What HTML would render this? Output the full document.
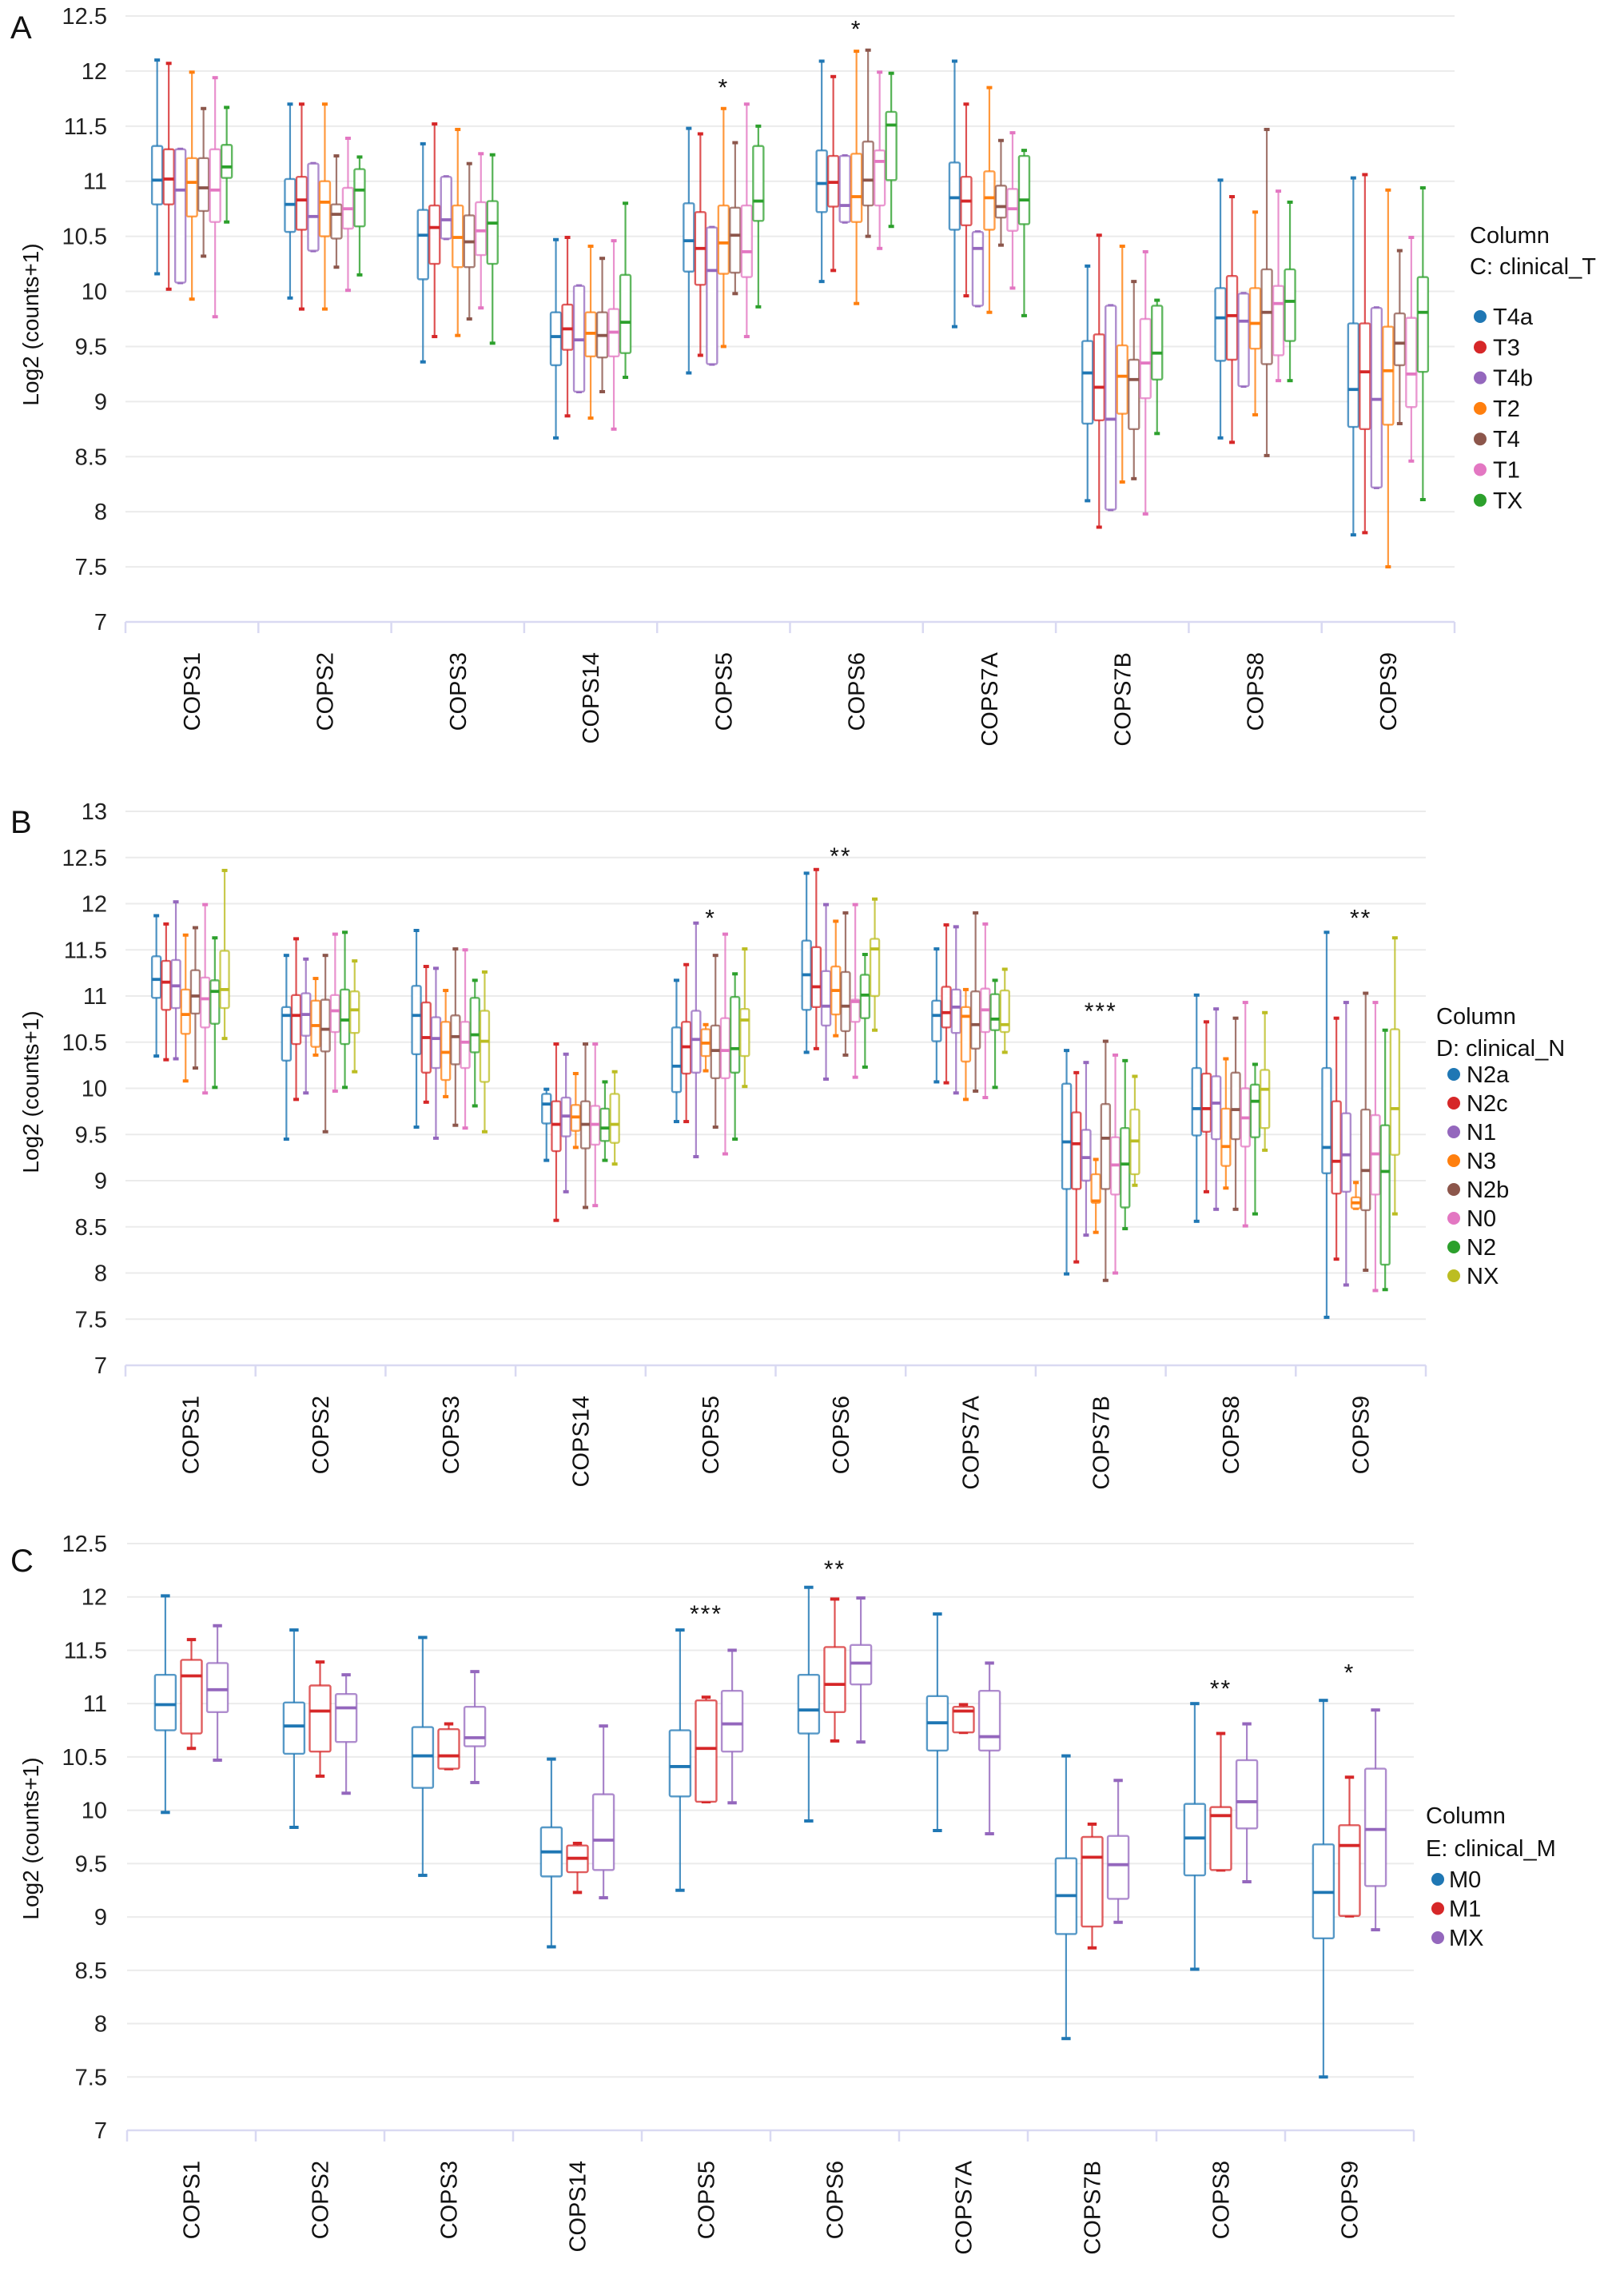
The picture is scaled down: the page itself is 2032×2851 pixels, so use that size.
<!DOCTYPE html>
<html><head><meta charset="utf-8"><title>COPS expression boxplots</title>
<style>
html,body{margin:0;padding:0;background:#fff;}
svg{display:block;font-family:"Liberation Sans",Arial,sans-serif;}
</style></head>
<body>
<svg id="fig" width="2032" height="2851" viewBox="0 0 2032 2851" xmlns="http://www.w3.org/2000/svg"></svg>
<script>
const categories = ["COPS1","COPS2","COPS3","COPS14","COPS5","COPS6","COPS7A","COPS7B","COPS8","COPS9"];
// each entry: [min, q1, median, q3, max]
const a_T4a=[[10.16,10.79,11.01,11.32,12.10],[9.94,10.54,10.79,11.02,11.70],[9.36,10.11,10.51,10.74,11.34],[8.67,9.33,9.59,9.81,10.47],[9.26,10.18,10.46,10.80,11.48],[10.09,10.72,10.98,11.28,12.09],[9.68,10.56,10.85,11.17,12.09],[8.10,8.80,9.26,9.55,10.23],[8.67,9.37,9.76,10.03,11.01],[7.79,8.77,9.11,9.71,11.03]];
const a_T3=[[10.02,10.79,11.02,11.29,12.07],[9.84,10.56,10.83,11.04,11.70],[9.59,10.25,10.58,10.78,11.52],[8.87,9.47,9.66,9.88,10.49],[9.42,10.06,10.39,10.72,11.43],[10.19,10.77,10.99,11.23,11.95],[9.96,10.60,10.82,11.04,11.70],[7.86,8.83,9.13,9.61,10.51],[8.63,9.38,9.78,10.14,10.86],[7.81,8.75,9.27,9.71,11.06]];
const a_T4b=[[10.08,10.08,10.92,11.29,11.29],[10.37,10.37,10.68,11.16,11.16],[10.48,10.48,10.65,11.04,11.04],[9.09,9.09,9.56,10.05,10.05],[9.34,9.34,10.19,10.58,10.58],[10.63,10.63,10.78,11.23,11.23],[9.87,9.87,10.39,10.54,10.54],[8.02,8.02,8.84,9.87,9.87],[9.14,9.14,9.73,9.98,9.98],[8.22,8.22,9.02,9.85,9.85]];
const a_T2=[[9.93,10.68,10.99,11.21,11.99],[9.84,10.50,10.81,11.00,11.70],[9.60,10.22,10.49,10.78,11.47],[8.85,9.41,9.62,9.81,10.41],[9.50,10.16,10.44,10.78,11.66],[9.89,10.63,10.86,11.25,12.18],[9.81,10.56,10.85,11.09,11.85],[8.27,8.89,9.23,9.51,10.41],[8.88,9.48,9.71,10.03,10.72],[7.50,8.79,9.28,9.68,10.92]];
const a_T4=[[10.32,10.73,10.94,11.21,11.66],[10.22,10.48,10.70,10.79,11.23],[9.75,10.22,10.45,10.69,11.16],[9.09,9.40,9.60,9.81,10.30],[9.98,10.17,10.51,10.76,11.35],[10.50,10.78,11.01,11.36,12.19],[10.42,10.67,10.77,10.96,11.37],[8.30,8.75,9.20,9.38,10.09],[8.51,9.34,9.81,10.20,11.47],[8.80,9.33,9.53,9.80,10.37]];
const a_T1=[[9.77,10.63,10.92,11.29,11.94],[10.01,10.57,10.75,10.94,11.39],[9.85,10.33,10.55,10.81,11.25],[8.75,9.41,9.63,9.84,10.46],[9.59,10.13,10.36,10.78,11.70],[10.39,10.78,11.18,11.28,11.99],[10.03,10.55,10.75,10.93,11.44],[7.98,9.03,9.35,9.75,10.36],[9.19,9.42,9.89,10.05,10.91],[8.46,8.95,9.25,9.76,10.49]];
const a_TX=[[10.63,11.03,11.13,11.33,11.67],[10.15,10.59,10.92,11.11,11.22],[9.53,10.25,10.62,10.82,11.24],[9.22,9.44,9.72,10.15,10.80],[9.86,10.64,10.82,11.32,11.50],[10.59,11.01,11.51,11.63,11.98],[9.78,10.61,10.83,11.23,11.28],[8.71,9.20,9.44,9.87,9.92],[9.19,9.55,9.91,10.20,10.81],[8.11,9.27,9.81,10.13,10.94]];

const b_N2a=[[10.35,10.98,11.18,11.43,11.87],[9.45,10.30,10.79,10.88,11.44],[9.58,10.37,10.79,11.11,11.71],[9.22,9.62,9.83,9.94,9.99],[9.64,9.96,10.24,10.66,11.17],[10.39,10.85,11.23,11.60,12.33],[10.07,10.51,10.79,10.95,11.51],[7.99,8.91,9.42,10.05,10.41],[8.56,9.49,9.78,10.22,11.01],[7.52,9.08,9.36,10.22,11.69]];
const b_N2c=[[10.31,10.85,11.15,11.38,11.78],[9.88,10.48,10.79,11.01,11.62],[9.85,10.17,10.55,10.93,11.32],[8.57,9.32,9.61,9.86,10.48],[9.64,10.16,10.45,10.72,11.34],[10.43,10.88,11.10,11.53,12.37],[10.06,10.66,10.82,11.10,11.77],[8.12,8.91,9.40,9.74,10.17],[8.88,9.53,9.78,10.16,10.72],[8.15,8.86,9.21,9.86,10.76]];
const b_N1=[[10.32,10.87,11.11,11.39,12.02],[9.95,10.57,10.80,11.03,11.40],[9.46,10.22,10.54,10.77,11.30],[8.88,9.48,9.70,9.90,10.37],[9.26,10.17,10.53,10.84,11.79],[10.10,10.68,10.89,11.27,11.99],[9.95,10.60,10.88,11.07,11.75],[8.41,9.00,9.25,9.55,10.28],[8.69,9.45,9.84,10.13,10.86],[7.87,8.88,9.28,9.73,10.93]];
const b_N3=[[10.08,10.59,10.80,11.07,11.66],[10.36,10.45,10.68,10.95,11.19],[9.91,10.09,10.39,10.72,11.06],[9.36,9.54,9.69,9.82,10.16],[10.19,10.35,10.49,10.64,10.69],[10.57,10.80,11.06,11.32,11.81],[9.88,10.29,10.78,10.88,11.07],[8.44,8.76,8.78,9.07,9.23],[8.92,9.16,9.37,9.78,10.32],[8.70,8.70,8.76,8.82,8.98]];
const b_N2b=[[10.22,10.81,11.00,11.28,11.74],[9.53,10.40,10.64,10.96,11.44],[9.60,10.26,10.56,10.79,11.51],[8.71,9.35,9.61,9.86,10.48],[9.58,10.11,10.41,10.68,11.44],[10.36,10.62,10.89,11.26,11.90],[9.97,10.43,10.69,11.05,11.90],[7.92,8.91,9.46,9.83,10.51],[8.69,9.45,9.77,10.17,10.76],[8.03,8.68,9.11,9.77,11.03]];
const b_N0=[[9.95,10.66,10.97,11.20,11.99],[9.97,10.61,10.84,11.01,11.67],[9.57,10.22,10.50,10.72,11.50],[8.73,9.39,9.61,9.81,10.48],[9.29,10.11,10.41,10.76,11.67],[10.12,10.72,10.94,10.96,11.99],[9.90,10.61,10.85,11.08,11.78],[8.00,8.85,9.17,9.47,10.36],[8.51,9.37,9.68,10.00,10.93],[7.81,8.85,9.29,9.71,10.93]];
const b_N2=[[10.01,10.70,11.05,11.17,11.63],[10.01,10.48,10.74,11.07,11.69],[9.81,10.39,10.58,10.98,11.17],[9.22,9.43,9.57,9.78,10.07],[9.45,10.17,10.43,10.99,11.24],[10.23,10.76,11.01,11.23,11.45],[10.01,10.63,10.75,11.02,11.17],[8.48,8.71,9.18,9.57,10.30],[8.64,9.47,9.86,10.04,10.26],[7.82,8.09,9.10,9.60,10.63]];
const b_NX=[[10.54,10.87,11.07,11.49,12.36],[10.18,10.60,10.85,11.05,11.38],[9.53,10.07,10.51,10.84,11.26],[9.18,9.41,9.61,9.94,10.18],[10.02,10.35,10.74,10.86,11.51],[10.63,11.00,11.51,11.62,12.05],[10.39,10.61,10.69,11.06,11.29],[8.95,9.07,9.43,9.77,10.13],[9.33,9.57,9.99,10.20,10.82],[8.64,9.28,9.78,10.64,11.63]];

const c_M0=[[9.98,10.75,10.99,11.27,12.01],[9.84,10.53,10.79,11.01,11.69],[9.39,10.21,10.51,10.78,11.62],[8.72,9.38,9.61,9.84,10.48],[9.25,10.13,10.41,10.75,11.69],[9.90,10.72,10.94,11.27,12.09],[9.81,10.56,10.82,11.07,11.84],[7.86,8.84,9.20,9.55,10.51],[8.51,9.39,9.74,10.06,11.00],[7.50,8.80,9.23,9.68,11.03]];
const c_M1=[[10.58,10.72,11.26,11.41,11.60],[10.32,10.55,10.93,11.17,11.39],[10.39,10.39,10.51,10.76,10.81],[9.23,9.42,9.55,9.67,9.69],[10.08,10.08,10.58,11.03,11.06],[10.65,10.92,11.18,11.53,11.98],[10.73,10.73,10.93,10.97,10.99],[8.71,8.91,9.56,9.75,9.87],[9.44,9.44,9.95,10.03,10.72],[9.01,9.01,9.67,9.86,10.31]];
const c_MX=[[10.47,10.92,11.13,11.38,11.73],[10.16,10.64,10.96,11.09,11.27],[10.26,10.60,10.68,10.97,11.30],[9.18,9.44,9.72,10.15,10.79],[10.07,10.55,10.81,11.12,11.50],[10.64,11.18,11.38,11.55,11.99],[9.78,10.56,10.69,11.12,11.38],[8.95,9.17,9.49,9.76,10.28],[9.33,9.83,10.08,10.47,10.81],[8.88,9.29,9.82,10.39,10.94]];

const ticksA=["7","7.5","8","8.5","9","9.5","10","10.5","11","11.5","12","12.5"];
const ticksB=["7","7.5","8","8.5","9","9.5","10","10.5","11","11.5","12","12.5","13"];
const ticksC=["7","7.5","8","8.5","9","9.5","10","10.5","11","11.5","12","12.5"];

const starsA_cat=[4,5], starsA_val=[11.88,12.41], starsA_txt=["*","*"];
const starsB_cat=[4,5,7,9], starsB_val=[11.88,12.55,10.87,11.88], starsB_txt=["*","**","***","**"];
const starsC_cat=[4,5,8,9], starsC_val=[11.87,12.29,11.17,11.32], starsC_txt=["***","**","**","*"];

const COL={blue:"#1f77b4",red:"#d62728",purple:"#9467bd",orange:"#ff7f0e",brown:"#8c564b",pink:"#e377c2",green:"#2ca02c",olive:"#bcbd22"};
const NS="http://www.w3.org/2000/svg";
const svg=document.getElementById('fig');
function mk(tag,attrs,parent){const e=document.createElementNS(NS,tag);for(const k in attrs)e.setAttribute(k,attrs[k]);(parent||svg).appendChild(e);return e;}

const panels=[
 {id:"a",letter:"A",letterY:48,yTopPx:20,yBotPx:778,vmin:7,vmax:12.5,ticks:ticksA,x0:157,x1:1820,step:14.5,bw:13,
  series:[["T4a",a_T4a,COL.blue],["T3",a_T3,COL.red],["T4b",a_T4b,COL.purple],["T2",a_T2,COL.orange],["T4",a_T4,COL.brown],["T1",a_T1,COL.pink],["TX",a_TX,COL.green]],
  legX:1839,legT1:294,legT2:333,legTitle2:"C: clinical_T",legDotX:1852,legTextX:1868,legY0:396,legDy:38.3,
  starsCat:starsA_cat,starsVal:starsA_val,starsTxt:starsA_txt,titleY:406},
 {id:"b",letter:"B",letterY:1042,yTopPx:1015,yBotPx:1708,vmin:7,vmax:13,ticks:ticksB,x0:157,x1:1784,step:12.2,bw:11,
  series:[["N2a",b_N2a,COL.blue],["N2c",b_N2c,COL.red],["N1",b_N1,COL.purple],["N3",b_N3,COL.orange],["N2b",b_N2b,COL.brown],["N0",b_N0,COL.pink],["N2",b_N2,COL.green],["NX",b_NX,COL.olive]],
  legX:1797,legT1:1271,legT2:1311,legTitle2:"D: clinical_N",legDotX:1819,legTextX:1835,legY0:1344,legDy:36,
  starsCat:starsB_cat,starsVal:starsB_val,starsTxt:starsB_txt,titleY:1366},
 {id:"c",letter:"C",letterY:1966,yTopPx:1931,yBotPx:2665,vmin:7,vmax:12.5,ticks:ticksC,x0:159,x1:1769,step:32.6,bw:26,
  series:[["M0",c_M0,COL.blue],["M1",c_M1,COL.red],["MX",c_MX,COL.purple]],
  legX:1784,legT1:2271,legT2:2312,legTitle2:"E: clinical_M",legDotX:1799,legTextX:1813,legY0:2351,legDy:36.5,
  starsCat:starsC_cat,starsVal:starsC_val,starsTxt:starsC_txt,titleY:2300}
];

panels.forEach(p=>{
  const g=mk('g',{});
  
  
  const y=v=>p.yBotPx-(v-p.vmin)/(p.vmax-p.vmin)*(p.yBotPx-p.yTopPx);
  const cw=(p.x1-p.x0)/categories.length;
  const cx=i=>p.x0+(i+0.5)*cw;
  // panel letter
  const L=mk('text',{x:13,y:p.letterY,'font-size':40,fill:'#111'},g);L.textContent=p.letter;
  
  
  // gridlines + ticks
  p.ticks.forEach(t=>{
    const v=parseFloat(t), yy=y(v);
    if(v>p.vmin){const gl=mk('line',{x1:p.x0,x2:p.x1,y1:yy,y2:yy,stroke:'#ebebeb','stroke-width':2},g);
      
      }
    const tl=mk('text',{x:134,y:yy+10,'font-size':29,'text-anchor':'end',fill:'#222'},g);tl.textContent=t;
    
    
  });
  // x axis
  const ax=mk('line',{x1:p.x0,x2:p.x1,y1:p.yBotPx,y2:p.yBotPx,stroke:'#d9d9f2','stroke-width':2.5},g);
  
  
  for(let i=0;i<=categories.length;i++){
    const xx=p.x0+i*cw;
    const tk=mk('line',{x1:xx,x2:xx,y1:p.yBotPx,y2:p.yBotPx+14,stroke:'#d9d9f2','stroke-width':2.5},g);
    
    
  }
  categories.forEach((c,i)=>{
    const xx=cx(i)+10, yy=p.yBotPx+38;
    const t=mk('text',{x:xx,y:yy,'font-size':29,'text-anchor':'end',fill:'#111',transform:`rotate(-90 ${xx} ${yy})`},g);
    t.textContent=c;
    
    
  });
  // y title
  const ty=mk('text',{x:48,y:p.titleY,'font-size':28,'text-anchor':'middle',fill:'#111',transform:`rotate(-90 48 ${p.titleY})`},g);
  ty.textContent="Log2 (counts+1)";
  
  
  // boxes
  const n=p.series.length;
  p.series.forEach((s,si)=>{
    const [name,data,color]=s;
    const sg=mk('g',{},g);
    
    
    data.forEach((d,ci)=>{
      const xc=cx(ci)+(si-(n-1)/2)*p.step, hw=p.bw/2;
      const [mn,q1,md,q3,mx]=d;
      const bg=mk('g',{},sg);
      
      
      mk('line',{x1:xc,x2:xc,y1:y(mx),y2:y(q3),stroke:color,'stroke-width':2.2,'stroke-opacity':0.8},bg);
      mk('line',{x1:xc,x2:xc,y1:y(q1),y2:y(mn),stroke:color,'stroke-width':2.2,'stroke-opacity':0.8},bg);
      const cap=Math.max(3.5,p.bw*0.22);
      mk('line',{x1:xc-cap,x2:xc+cap,y1:y(mx),y2:y(mx),stroke:color,'stroke-width':4},bg);
      mk('line',{x1:xc-cap,x2:xc+cap,y1:y(mn),y2:y(mn),stroke:color,'stroke-width':4},bg);
      mk('rect',{x:xc-hw,y:y(q3),width:p.bw,height:Math.max(1,y(q1)-y(q3)),rx:2,fill:'#fff',stroke:color,'stroke-width':2.4,'stroke-opacity':0.75},bg);
      mk('line',{x1:xc-hw,x2:xc+hw,y1:y(md),y2:y(md),stroke:color,'stroke-width':3.8},bg);
    });
  });
  // stars
  p.starsCat.forEach((ci,k)=>{
    const t=mk('text',{x:cx(ci),y:y(p.starsVal[k])+14,'font-size':30,'text-anchor':'middle',fill:'#111','letter-spacing':2},g);
    t.textContent=p.starsTxt[k];
    
    
  });
  // legend
  const lg=mk('g',{},g);
  
  
  const t1=mk('text',{x:p.legX,y:p.legT1+10,'font-size':29,fill:'#111'},lg);t1.textContent="Column";
  const t2=mk('text',{x:p.legX,y:p.legT2+10,'font-size':29,fill:'#111'},lg);t2.textContent=p.legTitle2;
  p.series.forEach((s,si)=>{
    const yy=p.legY0+si*p.legDy;
    const e=mk('g',{},lg);
    
    
    mk('circle',{cx:p.legDotX,cy:yy,r:8,fill:s[2]},e);
    const tt=mk('text',{x:p.legTextX,y:yy+10,'font-size':29,fill:'#111'},e);tt.textContent=s[0];
  });
});
</script>
</body></html>
